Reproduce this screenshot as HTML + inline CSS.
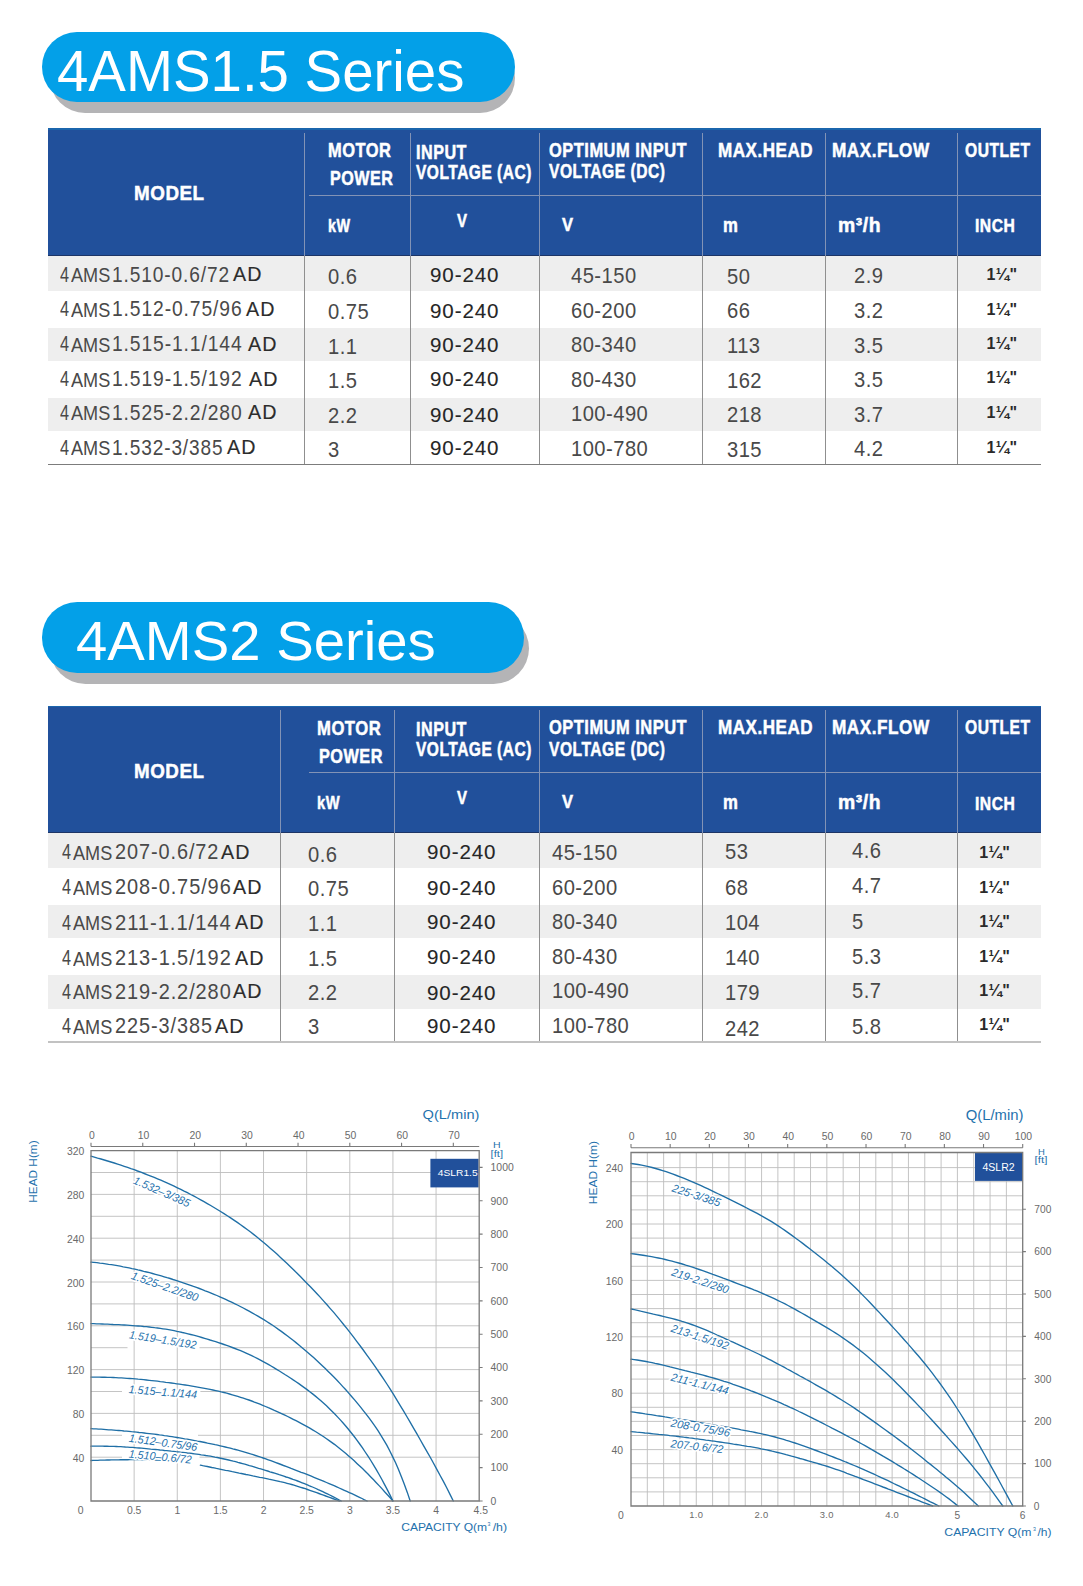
<!DOCTYPE html>
<html lang="en">
<head>
<meta charset="utf-8">
<title>4AMS1.5 / 4AMS2 Series</title>
<style>
html,body{margin:0;padding:0;background:#fff;}
body{width:1083px;height:1586px;position:relative;overflow:hidden;font-family:"Liberation Sans",Arial,sans-serif;}
.b{position:absolute;}
.t{position:absolute;white-space:nowrap;transform-origin:0 50%;display:block;}
svg{position:absolute;left:0;top:1090px;}
svg text{font-family:"Liberation Sans",Arial,sans-serif;}
</style>
</head>
<body>
<!-- section titles -->
<div class="b" style="left:50.00px;top:43.00px;width:464.50px;height:70.00px;background:#b4b4b6;border-radius:35.0px;"></div>
<div class="b" style="left:42.00px;top:32.00px;width:473.00px;height:69.80px;background:#03a0e8;border-radius:34.9px;"></div>
<span class="t" style="left:57.20px;top:43.13px;font-size:56.9px;line-height:56.9px;color:#fff;transform:scaleX(0.9910);">4AMS1.5 Series</span>
<div class="b" style="left:50.00px;top:613.00px;width:478.50px;height:71.00px;background:#b4b4b6;border-radius:35.5px;"></div>
<div class="b" style="left:42.00px;top:602.00px;width:482.00px;height:70.50px;background:#03a0e8;border-radius:35.2px;"></div>
<span class="t" style="left:75.60px;top:612.70px;font-size:56.0px;line-height:56.0px;color:#fff;transform:scaleX(1.0049);">4AMS2 Series</span>
<!-- table at y=128 -->
<div class="b" style="left:48.30px;top:128.30px;width:992.50px;height:127.50px;background:#21509b;"></div>
<div class="b" style="left:48.30px;top:128.30px;width:992.50px;height:1.60px;background:#1b66ad;"></div>
<div class="b" style="left:48.30px;top:254.60px;width:992.50px;height:1.60px;background:#1d3566;"></div>
<div class="b" style="left:48.30px;top:255.80px;width:992.50px;height:35.00px;background:#eeeeee;"></div>
<div class="b" style="left:48.30px;top:328.10px;width:992.50px;height:33.10px;background:#eeeeee;"></div>
<div class="b" style="left:48.30px;top:397.90px;width:992.50px;height:33.60px;background:#eeeeee;"></div>
<div class="b" style="left:303.50px;top:132.80px;width:1.00px;height:123.00px;background:#8293b6;"></div>
<div class="b" style="left:303.50px;top:255.80px;width:1.00px;height:208.40px;background:#8f8f8f;"></div>
<div class="b" style="left:409.50px;top:132.80px;width:1.00px;height:123.00px;background:#8293b6;"></div>
<div class="b" style="left:409.50px;top:255.80px;width:1.00px;height:208.40px;background:#8f8f8f;"></div>
<div class="b" style="left:538.50px;top:132.80px;width:1.00px;height:123.00px;background:#8293b6;"></div>
<div class="b" style="left:538.50px;top:255.80px;width:1.00px;height:208.40px;background:#8f8f8f;"></div>
<div class="b" style="left:701.50px;top:132.80px;width:1.00px;height:123.00px;background:#8293b6;"></div>
<div class="b" style="left:701.50px;top:255.80px;width:1.00px;height:208.40px;background:#8f8f8f;"></div>
<div class="b" style="left:824.50px;top:132.80px;width:1.00px;height:123.00px;background:#8293b6;"></div>
<div class="b" style="left:824.50px;top:255.80px;width:1.00px;height:208.40px;background:#8f8f8f;"></div>
<div class="b" style="left:956.50px;top:132.80px;width:1.00px;height:123.00px;background:#8293b6;"></div>
<div class="b" style="left:956.50px;top:255.80px;width:1.00px;height:208.40px;background:#8f8f8f;"></div>
<div class="b" style="left:308.80px;top:194.50px;width:732.00px;height:1.00px;background:#8293b6;"></div>
<div class="b" style="left:48.30px;top:463.60px;width:992.50px;height:1.00px;background:#7c7c7c;"></div>
<span class="t" style="left:133.90px;top:183.46px;font-size:20.6px;line-height:20.6px;color:#fff;font-weight:700;letter-spacing:0.6px;transform:scaleX(0.9132);-webkit-text-stroke:0.5px #fff;">MODEL</span>
<span class="t" style="left:328.00px;top:140.98px;font-size:19.4px;line-height:19.4px;color:#fff;font-weight:700;letter-spacing:0.6px;transform:scaleX(0.8482);-webkit-text-stroke:0.5px #fff;">MOTOR</span>
<span class="t" style="left:330.00px;top:169.18px;font-size:19.4px;line-height:19.4px;color:#fff;font-weight:700;letter-spacing:0.6px;transform:scaleX(0.8319);-webkit-text-stroke:0.5px #fff;">POWER</span>
<span class="t" style="left:416.00px;top:142.88px;font-size:19.4px;line-height:19.4px;color:#fff;font-weight:700;letter-spacing:0.6px;transform:scaleX(0.8333);-webkit-text-stroke:0.5px #fff;">INPUT</span>
<span class="t" style="left:416.00px;top:163.08px;font-size:19.4px;line-height:19.4px;color:#fff;font-weight:700;letter-spacing:0.6px;transform:scaleX(0.8029);-webkit-text-stroke:0.5px #fff;">VOLTAGE (AC)</span>
<span class="t" style="left:548.80px;top:140.58px;font-size:19.4px;line-height:19.4px;color:#fff;font-weight:700;letter-spacing:0.6px;transform:scaleX(0.8479);-webkit-text-stroke:0.5px #fff;">OPTIMUM INPUT</span>
<span class="t" style="left:549.00px;top:162.28px;font-size:19.4px;line-height:19.4px;color:#fff;font-weight:700;letter-spacing:0.6px;transform:scaleX(0.8064);-webkit-text-stroke:0.5px #fff;">VOLTAGE (DC)</span>
<span class="t" style="left:717.80px;top:140.58px;font-size:19.4px;line-height:19.4px;color:#fff;font-weight:700;letter-spacing:0.6px;transform:scaleX(0.8793);-webkit-text-stroke:0.5px #fff;">MAX.HEAD</span>
<span class="t" style="left:832.00px;top:140.58px;font-size:19.4px;line-height:19.4px;color:#fff;font-weight:700;letter-spacing:0.6px;transform:scaleX(0.8859);-webkit-text-stroke:0.5px #fff;">MAX.FLOW</span>
<span class="t" style="left:964.50px;top:140.58px;font-size:19.4px;line-height:19.4px;color:#fff;font-weight:700;letter-spacing:0.6px;transform:scaleX(0.8065);-webkit-text-stroke:0.5px #fff;">OUTLET</span>
<span class="t" style="left:328.00px;top:217.04px;font-size:18.5px;line-height:18.5px;color:#fff;font-weight:700;letter-spacing:0.6px;transform:scaleX(0.7760);-webkit-text-stroke:0.5px #fff;">kW</span>
<span class="t" style="left:457.00px;top:211.59px;font-size:18.8px;line-height:18.8px;color:#fff;font-weight:700;letter-spacing:0.6px;transform:scaleX(0.7999);-webkit-text-stroke:0.5px #fff;">V</span>
<span class="t" style="left:561.50px;top:216.09px;font-size:18.8px;line-height:18.8px;color:#fff;font-weight:700;letter-spacing:0.6px;transform:scaleX(0.8799);-webkit-text-stroke:0.5px #fff;">V</span>
<span class="t" style="left:723.40px;top:215.58px;font-size:19.4px;line-height:19.4px;color:#fff;font-weight:700;letter-spacing:0.6px;transform:scaleX(0.8630);-webkit-text-stroke:0.5px #fff;">m</span>
<span class="t" style="left:838.00px;top:215.88px;font-size:19.4px;line-height:19.4px;color:#fff;font-weight:700;letter-spacing:0.6px;transform:scaleX(0.9969);-webkit-text-stroke:0.5px #fff;">m³/h</span>
<span class="t" style="left:974.80px;top:216.22px;font-size:19.0px;line-height:19.0px;color:#fff;font-weight:700;letter-spacing:0.6px;transform:scaleX(0.8248);-webkit-text-stroke:0.5px #fff;">INCH</span>
<div class="m"><span class="t" style="left:59.90px;top:263.72px;font-size:21.6px;line-height:21.6px;color:#494949;transform:scaleX(0.7508);">4</span><span class="t" style="left:71.00px;top:265.46px;font-size:20.6px;line-height:20.6px;color:#494949;transform:scaleX(0.8789);">AMS</span><span class="t" style="left:112.30px;top:263.72px;font-size:21.6px;line-height:21.6px;color:#494949;letter-spacing:1.0px;transform:scaleX(0.8852);">1.510-0.6/72</span><span class="t" style="left:233.00px;top:265.44px;font-size:19.8px;line-height:19.8px;color:#2c2c2c;letter-spacing:1.0px;transform:scaleX(0.9957);-webkit-text-stroke:0.15px #2c2c2c;">AD</span></div>
<div class="m"><span class="t" style="left:59.90px;top:298.32px;font-size:21.6px;line-height:21.6px;color:#494949;transform:scaleX(0.7508);">4</span><span class="t" style="left:71.00px;top:300.06px;font-size:20.6px;line-height:20.6px;color:#494949;transform:scaleX(0.8789);">AMS</span><span class="t" style="left:112.30px;top:298.32px;font-size:21.6px;line-height:21.6px;color:#494949;letter-spacing:1.0px;transform:scaleX(0.8921);">1.512-0.75/96</span><span class="t" style="left:246.40px;top:300.04px;font-size:19.8px;line-height:19.8px;color:#2c2c2c;letter-spacing:1.0px;transform:scaleX(0.9957);-webkit-text-stroke:0.15px #2c2c2c;">AD</span></div>
<div class="m"><span class="t" style="left:59.90px;top:332.92px;font-size:21.6px;line-height:21.6px;color:#494949;transform:scaleX(0.7508);">4</span><span class="t" style="left:71.00px;top:334.66px;font-size:20.6px;line-height:20.6px;color:#494949;transform:scaleX(0.8789);">AMS</span><span class="t" style="left:112.30px;top:332.92px;font-size:21.6px;line-height:21.6px;color:#494949;letter-spacing:1.0px;transform:scaleX(0.8921);">1.515-1.1/144</span><span class="t" style="left:248.30px;top:334.64px;font-size:19.8px;line-height:19.8px;color:#2c2c2c;letter-spacing:1.0px;transform:scaleX(0.9957);-webkit-text-stroke:0.15px #2c2c2c;">AD</span></div>
<div class="m"><span class="t" style="left:59.90px;top:368.12px;font-size:21.6px;line-height:21.6px;color:#494949;transform:scaleX(0.7508);">4</span><span class="t" style="left:71.00px;top:369.86px;font-size:20.6px;line-height:20.6px;color:#494949;transform:scaleX(0.8789);">AMS</span><span class="t" style="left:112.30px;top:368.12px;font-size:21.6px;line-height:21.6px;color:#494949;letter-spacing:1.0px;transform:scaleX(0.8921);">1.519-1.5/192</span><span class="t" style="left:248.80px;top:369.84px;font-size:19.8px;line-height:19.8px;color:#2c2c2c;letter-spacing:1.0px;transform:scaleX(0.9957);-webkit-text-stroke:0.15px #2c2c2c;">AD</span></div>
<div class="m"><span class="t" style="left:59.90px;top:401.52px;font-size:21.6px;line-height:21.6px;color:#494949;transform:scaleX(0.7508);">4</span><span class="t" style="left:71.00px;top:403.26px;font-size:20.6px;line-height:20.6px;color:#494949;transform:scaleX(0.8789);">AMS</span><span class="t" style="left:112.30px;top:401.52px;font-size:21.6px;line-height:21.6px;color:#494949;letter-spacing:1.0px;transform:scaleX(0.8921);">1.525-2.2/280</span><span class="t" style="left:247.50px;top:403.24px;font-size:19.8px;line-height:19.8px;color:#2c2c2c;letter-spacing:1.0px;transform:scaleX(0.9957);-webkit-text-stroke:0.15px #2c2c2c;">AD</span></div>
<div class="m"><span class="t" style="left:59.90px;top:436.72px;font-size:21.6px;line-height:21.6px;color:#494949;transform:scaleX(0.7508);">4</span><span class="t" style="left:71.00px;top:438.46px;font-size:20.6px;line-height:20.6px;color:#494949;transform:scaleX(0.8789);">AMS</span><span class="t" style="left:112.30px;top:436.72px;font-size:21.6px;line-height:21.6px;color:#494949;letter-spacing:1.0px;transform:scaleX(0.8832);">1.532-3/385</span><span class="t" style="left:226.70px;top:438.44px;font-size:19.8px;line-height:19.8px;color:#2c2c2c;letter-spacing:1.0px;transform:scaleX(0.9957);-webkit-text-stroke:0.15px #2c2c2c;">AD</span></div>
<span class="t" style="left:328.40px;top:265.85px;font-size:21.8px;line-height:21.8px;color:#494949;letter-spacing:0.5px;transform:scaleX(0.9250);">0.6</span>
<span class="t" style="left:328.40px;top:300.95px;font-size:21.8px;line-height:21.8px;color:#494949;letter-spacing:0.5px;transform:scaleX(0.9250);">0.75</span>
<span class="t" style="left:328.40px;top:335.55px;font-size:21.8px;line-height:21.8px;color:#494949;letter-spacing:0.5px;transform:scaleX(0.9250);">1.1</span>
<span class="t" style="left:328.40px;top:370.05px;font-size:21.8px;line-height:21.8px;color:#494949;letter-spacing:0.5px;transform:scaleX(0.9250);">1.5</span>
<span class="t" style="left:328.40px;top:404.55px;font-size:21.8px;line-height:21.8px;color:#494949;letter-spacing:0.5px;transform:scaleX(0.9250);">2.2</span>
<span class="t" style="left:328.40px;top:439.15px;font-size:21.8px;line-height:21.8px;color:#494949;letter-spacing:0.5px;transform:scaleX(0.9250);">3</span>
<span class="t" style="left:430.40px;top:264.53px;font-size:20.4px;line-height:20.4px;color:#262626;letter-spacing:0.9px;transform:scaleX(1.0081);-webkit-text-stroke:0.1px #262626;">90-240</span>
<span class="t" style="left:430.40px;top:300.73px;font-size:20.4px;line-height:20.4px;color:#262626;letter-spacing:0.9px;transform:scaleX(1.0081);-webkit-text-stroke:0.1px #262626;">90-240</span>
<span class="t" style="left:430.40px;top:335.03px;font-size:20.4px;line-height:20.4px;color:#262626;letter-spacing:0.9px;transform:scaleX(1.0081);-webkit-text-stroke:0.1px #262626;">90-240</span>
<span class="t" style="left:430.40px;top:369.43px;font-size:20.4px;line-height:20.4px;color:#262626;letter-spacing:0.9px;transform:scaleX(1.0081);-webkit-text-stroke:0.1px #262626;">90-240</span>
<span class="t" style="left:430.40px;top:405.33px;font-size:20.4px;line-height:20.4px;color:#262626;letter-spacing:0.9px;transform:scaleX(1.0081);-webkit-text-stroke:0.1px #262626;">90-240</span>
<span class="t" style="left:430.40px;top:437.73px;font-size:20.4px;line-height:20.4px;color:#262626;letter-spacing:0.9px;transform:scaleX(1.0081);-webkit-text-stroke:0.1px #262626;">90-240</span>
<span class="t" style="left:570.80px;top:265.15px;font-size:21.8px;line-height:21.8px;color:#494949;letter-spacing:0.5px;transform:scaleX(0.9250);">45-150</span>
<span class="t" style="left:570.80px;top:299.85px;font-size:21.8px;line-height:21.8px;color:#494949;letter-spacing:0.5px;transform:scaleX(0.9250);">60-200</span>
<span class="t" style="left:570.80px;top:333.85px;font-size:21.8px;line-height:21.8px;color:#494949;letter-spacing:0.5px;transform:scaleX(0.9250);">80-340</span>
<span class="t" style="left:570.80px;top:368.85px;font-size:21.8px;line-height:21.8px;color:#494949;letter-spacing:0.5px;transform:scaleX(0.9250);">80-430</span>
<span class="t" style="left:570.80px;top:403.25px;font-size:21.8px;line-height:21.8px;color:#494949;letter-spacing:0.5px;transform:scaleX(0.9250);">100-490</span>
<span class="t" style="left:570.80px;top:437.55px;font-size:21.8px;line-height:21.8px;color:#494949;letter-spacing:0.5px;transform:scaleX(0.9250);">100-780</span>
<span class="t" style="left:726.60px;top:265.75px;font-size:21.8px;line-height:21.8px;color:#494949;letter-spacing:0.5px;transform:scaleX(0.9250);">50</span>
<span class="t" style="left:726.60px;top:300.35px;font-size:21.8px;line-height:21.8px;color:#494949;letter-spacing:0.5px;transform:scaleX(0.9250);">66</span>
<span class="t" style="left:726.60px;top:335.25px;font-size:21.8px;line-height:21.8px;color:#494949;letter-spacing:0.5px;transform:scaleX(0.9250);">113</span>
<span class="t" style="left:726.60px;top:369.55px;font-size:21.8px;line-height:21.8px;color:#494949;letter-spacing:0.5px;transform:scaleX(0.9250);">162</span>
<span class="t" style="left:726.60px;top:404.45px;font-size:21.8px;line-height:21.8px;color:#494949;letter-spacing:0.5px;transform:scaleX(0.9250);">218</span>
<span class="t" style="left:726.60px;top:438.65px;font-size:21.8px;line-height:21.8px;color:#494949;letter-spacing:0.5px;transform:scaleX(0.9250);">315</span>
<span class="t" style="left:853.90px;top:265.45px;font-size:21.8px;line-height:21.8px;color:#494949;letter-spacing:0.5px;transform:scaleX(0.9250);">2.9</span>
<span class="t" style="left:853.90px;top:299.75px;font-size:21.8px;line-height:21.8px;color:#494949;letter-spacing:0.5px;transform:scaleX(0.9250);">3.2</span>
<span class="t" style="left:853.90px;top:334.65px;font-size:21.8px;line-height:21.8px;color:#494949;letter-spacing:0.5px;transform:scaleX(0.9250);">3.5</span>
<span class="t" style="left:853.90px;top:368.85px;font-size:21.8px;line-height:21.8px;color:#494949;letter-spacing:0.5px;transform:scaleX(0.9250);">3.5</span>
<span class="t" style="left:853.90px;top:403.75px;font-size:21.8px;line-height:21.8px;color:#494949;letter-spacing:0.5px;transform:scaleX(0.9250);">3.7</span>
<span class="t" style="left:853.90px;top:438.35px;font-size:21.8px;line-height:21.8px;color:#494949;letter-spacing:0.5px;transform:scaleX(0.9250);">4.2</span>
<span class="t" style="left:986.60px;top:267.06px;font-size:16.0px;line-height:16.0px;color:#2a2a2a;font-weight:700;letter-spacing:0.3px;">1¼&quot;</span>
<span class="t" style="left:986.60px;top:301.96px;font-size:16.0px;line-height:16.0px;color:#2a2a2a;font-weight:700;letter-spacing:0.3px;">1¼&quot;</span>
<span class="t" style="left:986.60px;top:336.16px;font-size:16.0px;line-height:16.0px;color:#2a2a2a;font-weight:700;letter-spacing:0.3px;">1¼&quot;</span>
<span class="t" style="left:986.60px;top:370.46px;font-size:16.0px;line-height:16.0px;color:#2a2a2a;font-weight:700;letter-spacing:0.3px;">1¼&quot;</span>
<span class="t" style="left:986.60px;top:405.36px;font-size:16.0px;line-height:16.0px;color:#2a2a2a;font-weight:700;letter-spacing:0.3px;">1¼&quot;</span>
<span class="t" style="left:986.60px;top:439.96px;font-size:16.0px;line-height:16.0px;color:#2a2a2a;font-weight:700;letter-spacing:0.3px;">1¼&quot;</span>
<!-- table at y=706 -->
<div class="b" style="left:48.30px;top:705.60px;width:992.50px;height:127.50px;background:#21509b;"></div>
<div class="b" style="left:48.30px;top:705.60px;width:992.50px;height:1.60px;background:#1b66ad;"></div>
<div class="b" style="left:48.30px;top:831.90px;width:992.50px;height:1.60px;background:#1d3566;"></div>
<div class="b" style="left:48.30px;top:833.20px;width:992.50px;height:35.20px;background:#eeeeee;"></div>
<div class="b" style="left:48.30px;top:905.00px;width:992.50px;height:33.20px;background:#eeeeee;"></div>
<div class="b" style="left:48.30px;top:975.00px;width:992.50px;height:33.50px;background:#eeeeee;"></div>
<div class="b" style="left:279.50px;top:710.10px;width:1.00px;height:123.00px;background:#8293b6;"></div>
<div class="b" style="left:279.50px;top:833.10px;width:1.00px;height:208.90px;background:#8f8f8f;"></div>
<div class="b" style="left:393.50px;top:710.10px;width:1.00px;height:123.00px;background:#8293b6;"></div>
<div class="b" style="left:393.50px;top:833.10px;width:1.00px;height:208.90px;background:#8f8f8f;"></div>
<div class="b" style="left:538.50px;top:710.10px;width:1.00px;height:123.00px;background:#8293b6;"></div>
<div class="b" style="left:538.50px;top:833.10px;width:1.00px;height:208.90px;background:#8f8f8f;"></div>
<div class="b" style="left:701.50px;top:710.10px;width:1.00px;height:123.00px;background:#8293b6;"></div>
<div class="b" style="left:701.50px;top:833.10px;width:1.00px;height:208.90px;background:#8f8f8f;"></div>
<div class="b" style="left:824.50px;top:710.10px;width:1.00px;height:123.00px;background:#8293b6;"></div>
<div class="b" style="left:824.50px;top:833.10px;width:1.00px;height:208.90px;background:#8f8f8f;"></div>
<div class="b" style="left:956.50px;top:710.10px;width:1.00px;height:123.00px;background:#8293b6;"></div>
<div class="b" style="left:956.50px;top:833.10px;width:1.00px;height:208.90px;background:#8f8f8f;"></div>
<div class="b" style="left:308.80px;top:771.50px;width:732.00px;height:1.00px;background:#8293b6;"></div>
<div class="b" style="left:48.30px;top:1041.10px;width:992.50px;height:1.70px;background:#c2c2c2;"></div>
<span class="t" style="left:134.00px;top:760.66px;font-size:20.6px;line-height:20.6px;color:#fff;font-weight:700;letter-spacing:0.6px;transform:scaleX(0.9119);-webkit-text-stroke:0.5px #fff;">MODEL</span>
<span class="t" style="left:317.00px;top:718.78px;font-size:19.4px;line-height:19.4px;color:#fff;font-weight:700;letter-spacing:0.6px;transform:scaleX(0.8589);-webkit-text-stroke:0.5px #fff;">MOTOR</span>
<span class="t" style="left:319.00px;top:746.98px;font-size:19.4px;line-height:19.4px;color:#fff;font-weight:700;letter-spacing:0.6px;transform:scaleX(0.8385);-webkit-text-stroke:0.5px #fff;">POWER</span>
<span class="t" style="left:416.30px;top:720.08px;font-size:19.4px;line-height:19.4px;color:#fff;font-weight:700;letter-spacing:0.6px;transform:scaleX(0.8317);-webkit-text-stroke:0.5px #fff;">INPUT</span>
<span class="t" style="left:416.30px;top:740.08px;font-size:19.4px;line-height:19.4px;color:#fff;font-weight:700;letter-spacing:0.6px;transform:scaleX(0.8029);-webkit-text-stroke:0.5px #fff;">VOLTAGE (AC)</span>
<span class="t" style="left:548.80px;top:717.88px;font-size:19.4px;line-height:19.4px;color:#fff;font-weight:700;letter-spacing:0.6px;transform:scaleX(0.8479);-webkit-text-stroke:0.5px #fff;">OPTIMUM INPUT</span>
<span class="t" style="left:549.00px;top:739.58px;font-size:19.4px;line-height:19.4px;color:#fff;font-weight:700;letter-spacing:0.6px;transform:scaleX(0.8064);-webkit-text-stroke:0.5px #fff;">VOLTAGE (DC)</span>
<span class="t" style="left:717.80px;top:717.88px;font-size:19.4px;line-height:19.4px;color:#fff;font-weight:700;letter-spacing:0.6px;transform:scaleX(0.8793);-webkit-text-stroke:0.5px #fff;">MAX.HEAD</span>
<span class="t" style="left:832.00px;top:717.88px;font-size:19.4px;line-height:19.4px;color:#fff;font-weight:700;letter-spacing:0.6px;transform:scaleX(0.8859);-webkit-text-stroke:0.5px #fff;">MAX.FLOW</span>
<span class="t" style="left:964.50px;top:717.88px;font-size:19.4px;line-height:19.4px;color:#fff;font-weight:700;letter-spacing:0.6px;transform:scaleX(0.8065);-webkit-text-stroke:0.5px #fff;">OUTLET</span>
<span class="t" style="left:317.40px;top:794.34px;font-size:18.5px;line-height:18.5px;color:#fff;font-weight:700;letter-spacing:0.6px;transform:scaleX(0.7972);-webkit-text-stroke:0.5px #fff;">kW</span>
<span class="t" style="left:457.00px;top:789.09px;font-size:18.8px;line-height:18.8px;color:#fff;font-weight:700;letter-spacing:0.6px;transform:scaleX(0.7999);-webkit-text-stroke:0.5px #fff;">V</span>
<span class="t" style="left:561.50px;top:793.39px;font-size:18.8px;line-height:18.8px;color:#fff;font-weight:700;letter-spacing:0.6px;transform:scaleX(0.8799);-webkit-text-stroke:0.5px #fff;">V</span>
<span class="t" style="left:723.40px;top:792.88px;font-size:19.4px;line-height:19.4px;color:#fff;font-weight:700;letter-spacing:0.6px;transform:scaleX(0.8630);-webkit-text-stroke:0.5px #fff;">m</span>
<span class="t" style="left:838.00px;top:793.18px;font-size:19.4px;line-height:19.4px;color:#fff;font-weight:700;letter-spacing:0.6px;transform:scaleX(0.9969);-webkit-text-stroke:0.5px #fff;">m³/h</span>
<span class="t" style="left:974.80px;top:793.52px;font-size:19.0px;line-height:19.0px;color:#fff;font-weight:700;letter-spacing:0.6px;transform:scaleX(0.8248);-webkit-text-stroke:0.5px #fff;">INCH</span>
<div class="m"><span class="t" style="left:61.60px;top:841.32px;font-size:21.6px;line-height:21.6px;color:#494949;transform:scaleX(0.7508);">4</span><span class="t" style="left:72.70px;top:843.06px;font-size:20.6px;line-height:20.6px;color:#494949;transform:scaleX(0.8789);">AMS</span><span class="t" style="left:115.30px;top:841.32px;font-size:21.6px;line-height:21.6px;color:#494949;letter-spacing:1.0px;transform:scaleX(0.9212);">207-0.6/72</span><span class="t" style="left:220.60px;top:843.04px;font-size:19.8px;line-height:19.8px;color:#2c2c2c;letter-spacing:1.0px;transform:scaleX(0.9957);-webkit-text-stroke:0.15px #2c2c2c;">AD</span></div>
<div class="m"><span class="t" style="left:61.60px;top:876.32px;font-size:21.6px;line-height:21.6px;color:#494949;transform:scaleX(0.7508);">4</span><span class="t" style="left:72.70px;top:878.06px;font-size:20.6px;line-height:20.6px;color:#494949;transform:scaleX(0.8789);">AMS</span><span class="t" style="left:115.30px;top:876.32px;font-size:21.6px;line-height:21.6px;color:#494949;letter-spacing:1.0px;transform:scaleX(0.9239);">208-0.75/96</span><span class="t" style="left:233.10px;top:878.04px;font-size:19.8px;line-height:19.8px;color:#2c2c2c;letter-spacing:1.0px;transform:scaleX(0.9957);-webkit-text-stroke:0.15px #2c2c2c;">AD</span></div>
<div class="m"><span class="t" style="left:61.60px;top:911.72px;font-size:21.6px;line-height:21.6px;color:#494949;transform:scaleX(0.7508);">4</span><span class="t" style="left:72.70px;top:913.46px;font-size:20.6px;line-height:20.6px;color:#494949;transform:scaleX(0.8789);">AMS</span><span class="t" style="left:115.30px;top:911.72px;font-size:21.6px;line-height:21.6px;color:#494949;letter-spacing:1.0px;transform:scaleX(0.9360);">211-1.1/144</span><span class="t" style="left:234.50px;top:913.44px;font-size:19.8px;line-height:19.8px;color:#2c2c2c;letter-spacing:1.0px;transform:scaleX(0.9957);-webkit-text-stroke:0.15px #2c2c2c;">AD</span></div>
<div class="m"><span class="t" style="left:61.60px;top:946.82px;font-size:21.6px;line-height:21.6px;color:#494949;transform:scaleX(0.7508);">4</span><span class="t" style="left:72.70px;top:948.56px;font-size:20.6px;line-height:20.6px;color:#494949;transform:scaleX(0.8789);">AMS</span><span class="t" style="left:115.30px;top:946.82px;font-size:21.6px;line-height:21.6px;color:#494949;letter-spacing:1.0px;transform:scaleX(0.9239);">213-1.5/192</span><span class="t" style="left:235.30px;top:948.54px;font-size:19.8px;line-height:19.8px;color:#2c2c2c;letter-spacing:1.0px;transform:scaleX(0.9957);-webkit-text-stroke:0.15px #2c2c2c;">AD</span></div>
<div class="m"><span class="t" style="left:61.60px;top:980.52px;font-size:21.6px;line-height:21.6px;color:#494949;transform:scaleX(0.7508);">4</span><span class="t" style="left:72.70px;top:982.26px;font-size:20.6px;line-height:20.6px;color:#494949;transform:scaleX(0.8789);">AMS</span><span class="t" style="left:115.30px;top:980.52px;font-size:21.6px;line-height:21.6px;color:#494949;letter-spacing:1.0px;transform:scaleX(0.9239);">219-2.2/280</span><span class="t" style="left:233.40px;top:982.24px;font-size:19.8px;line-height:19.8px;color:#2c2c2c;letter-spacing:1.0px;transform:scaleX(0.9957);-webkit-text-stroke:0.15px #2c2c2c;">AD</span></div>
<div class="m"><span class="t" style="left:61.60px;top:1015.22px;font-size:21.6px;line-height:21.6px;color:#494949;transform:scaleX(0.7508);">4</span><span class="t" style="left:72.70px;top:1016.96px;font-size:20.6px;line-height:20.6px;color:#494949;transform:scaleX(0.8789);">AMS</span><span class="t" style="left:115.30px;top:1015.22px;font-size:21.6px;line-height:21.6px;color:#494949;letter-spacing:1.0px;transform:scaleX(0.9211);">225-3/385</span><span class="t" style="left:214.50px;top:1016.94px;font-size:19.8px;line-height:19.8px;color:#2c2c2c;letter-spacing:1.0px;transform:scaleX(0.9957);-webkit-text-stroke:0.15px #2c2c2c;">AD</span></div>
<span class="t" style="left:308.10px;top:843.55px;font-size:21.8px;line-height:21.8px;color:#494949;letter-spacing:0.5px;transform:scaleX(0.9250);">0.6</span>
<span class="t" style="left:308.10px;top:877.85px;font-size:21.8px;line-height:21.8px;color:#494949;letter-spacing:0.5px;transform:scaleX(0.9250);">0.75</span>
<span class="t" style="left:308.10px;top:912.95px;font-size:21.8px;line-height:21.8px;color:#494949;letter-spacing:0.5px;transform:scaleX(0.9250);">1.1</span>
<span class="t" style="left:308.10px;top:947.65px;font-size:21.8px;line-height:21.8px;color:#494949;letter-spacing:0.5px;transform:scaleX(0.9250);">1.5</span>
<span class="t" style="left:308.10px;top:981.95px;font-size:21.8px;line-height:21.8px;color:#494949;letter-spacing:0.5px;transform:scaleX(0.9250);">2.2</span>
<span class="t" style="left:308.10px;top:1016.35px;font-size:21.8px;line-height:21.8px;color:#494949;letter-spacing:0.5px;transform:scaleX(0.9250);">3</span>
<span class="t" style="left:427.20px;top:841.63px;font-size:20.4px;line-height:20.4px;color:#262626;letter-spacing:0.9px;transform:scaleX(1.0081);-webkit-text-stroke:0.1px #262626;">90-240</span>
<span class="t" style="left:427.20px;top:877.53px;font-size:20.4px;line-height:20.4px;color:#262626;letter-spacing:0.9px;transform:scaleX(1.0081);-webkit-text-stroke:0.1px #262626;">90-240</span>
<span class="t" style="left:427.20px;top:912.43px;font-size:20.4px;line-height:20.4px;color:#262626;letter-spacing:0.9px;transform:scaleX(1.0081);-webkit-text-stroke:0.1px #262626;">90-240</span>
<span class="t" style="left:427.20px;top:946.73px;font-size:20.4px;line-height:20.4px;color:#262626;letter-spacing:0.9px;transform:scaleX(1.0081);-webkit-text-stroke:0.1px #262626;">90-240</span>
<span class="t" style="left:427.20px;top:982.93px;font-size:20.4px;line-height:20.4px;color:#262626;letter-spacing:0.9px;transform:scaleX(1.0081);-webkit-text-stroke:0.1px #262626;">90-240</span>
<span class="t" style="left:427.20px;top:1015.53px;font-size:20.4px;line-height:20.4px;color:#262626;letter-spacing:0.9px;transform:scaleX(1.0081);-webkit-text-stroke:0.1px #262626;">90-240</span>
<span class="t" style="left:551.90px;top:842.15px;font-size:21.8px;line-height:21.8px;color:#494949;letter-spacing:0.5px;transform:scaleX(0.9250);">45-150</span>
<span class="t" style="left:551.90px;top:877.05px;font-size:21.8px;line-height:21.8px;color:#494949;letter-spacing:0.5px;transform:scaleX(0.9250);">60-200</span>
<span class="t" style="left:551.90px;top:911.25px;font-size:21.8px;line-height:21.8px;color:#494949;letter-spacing:0.5px;transform:scaleX(0.9250);">80-340</span>
<span class="t" style="left:551.90px;top:946.15px;font-size:21.8px;line-height:21.8px;color:#494949;letter-spacing:0.5px;transform:scaleX(0.9250);">80-430</span>
<span class="t" style="left:551.90px;top:980.45px;font-size:21.8px;line-height:21.8px;color:#494949;letter-spacing:0.5px;transform:scaleX(0.9250);">100-490</span>
<span class="t" style="left:551.90px;top:1015.35px;font-size:21.8px;line-height:21.8px;color:#494949;letter-spacing:0.5px;transform:scaleX(0.9250);">100-780</span>
<span class="t" style="left:724.90px;top:841.45px;font-size:21.8px;line-height:21.8px;color:#494949;letter-spacing:0.5px;transform:scaleX(0.9250);">53</span>
<span class="t" style="left:724.90px;top:877.05px;font-size:21.8px;line-height:21.8px;color:#494949;letter-spacing:0.5px;transform:scaleX(0.9250);">68</span>
<span class="t" style="left:724.90px;top:911.95px;font-size:21.8px;line-height:21.8px;color:#494949;letter-spacing:0.5px;transform:scaleX(0.9250);">104</span>
<span class="t" style="left:724.90px;top:947.15px;font-size:21.8px;line-height:21.8px;color:#494949;letter-spacing:0.5px;transform:scaleX(0.9250);">140</span>
<span class="t" style="left:724.90px;top:982.05px;font-size:21.8px;line-height:21.8px;color:#494949;letter-spacing:0.5px;transform:scaleX(0.9250);">179</span>
<span class="t" style="left:724.90px;top:1017.65px;font-size:21.8px;line-height:21.8px;color:#494949;letter-spacing:0.5px;transform:scaleX(0.9250);">242</span>
<span class="t" style="left:851.90px;top:840.45px;font-size:21.8px;line-height:21.8px;color:#494949;letter-spacing:0.5px;transform:scaleX(0.9250);">4.6</span>
<span class="t" style="left:851.90px;top:875.35px;font-size:21.8px;line-height:21.8px;color:#494949;letter-spacing:0.5px;transform:scaleX(0.9250);">4.7</span>
<span class="t" style="left:851.90px;top:910.65px;font-size:21.8px;line-height:21.8px;color:#494949;letter-spacing:0.5px;transform:scaleX(0.9250);">5</span>
<span class="t" style="left:851.90px;top:945.55px;font-size:21.8px;line-height:21.8px;color:#494949;letter-spacing:0.5px;transform:scaleX(0.9250);">5.3</span>
<span class="t" style="left:851.90px;top:980.45px;font-size:21.8px;line-height:21.8px;color:#494949;letter-spacing:0.5px;transform:scaleX(0.9250);">5.7</span>
<span class="t" style="left:851.90px;top:1015.95px;font-size:21.8px;line-height:21.8px;color:#494949;letter-spacing:0.5px;transform:scaleX(0.9250);">5.8</span>
<span class="t" style="left:979.30px;top:844.66px;font-size:16.0px;line-height:16.0px;color:#2a2a2a;font-weight:700;letter-spacing:0.3px;">1¼&quot;</span>
<span class="t" style="left:979.30px;top:879.66px;font-size:16.0px;line-height:16.0px;color:#2a2a2a;font-weight:700;letter-spacing:0.3px;">1¼&quot;</span>
<span class="t" style="left:979.30px;top:913.86px;font-size:16.0px;line-height:16.0px;color:#2a2a2a;font-weight:700;letter-spacing:0.3px;">1¼&quot;</span>
<span class="t" style="left:979.30px;top:948.76px;font-size:16.0px;line-height:16.0px;color:#2a2a2a;font-weight:700;letter-spacing:0.3px;">1¼&quot;</span>
<span class="t" style="left:979.30px;top:982.66px;font-size:16.0px;line-height:16.0px;color:#2a2a2a;font-weight:700;letter-spacing:0.3px;">1¼&quot;</span>
<span class="t" style="left:979.30px;top:1016.96px;font-size:16.0px;line-height:16.0px;color:#2a2a2a;font-weight:700;letter-spacing:0.3px;">1¼&quot;</span>
<svg width="1083" height="496" viewBox="0 1090 1083 496">
<!-- chart 1 : 4SLR1.5 -->
<g stroke="#bdbdbd" stroke-width="0.9" fill="none">
<path d="M134.13,1150.6 V1501.0"/>
<path d="M177.27,1150.6 V1501.0"/>
<path d="M220.40,1150.6 V1501.0"/>
<path d="M263.53,1150.6 V1501.0"/>
<path d="M306.67,1150.6 V1501.0"/>
<path d="M349.80,1150.6 V1501.0"/>
<path d="M392.93,1150.6 V1501.0"/>
<path d="M436.07,1150.6 V1501.0"/>
<path d="M91.0,1457.20 H122 M199.5,1457.20 H479.2"/>
<path d="M91.0,1435.30 H122 M198,1435.30 H479.2"/>
<path d="M91.0,1413.40 H479.2"/>
<path d="M91.0,1391.50 H122 M200.4,1391.50 H479.2"/>
<path d="M91.0,1369.60 H479.2"/>
<path d="M91.0,1347.70 H127.5 M199.5,1347.70 H479.2"/>
<path d="M91.0,1325.80 H479.2"/>
<path d="M91.0,1303.90 H479.2"/>
<path d="M91.0,1282.00 H479.2"/>
<path d="M91.0,1260.10 H479.2"/>
<path d="M91.0,1238.20 H479.2"/>
<path d="M91.0,1216.30 H479.2"/>
<path d="M91.0,1194.40 H479.2"/>
<path d="M91.0,1172.50 H479.2"/>
</g>
<rect x="430.4" y="1158.8" width="48.2" height="28.6" fill="#21509b"/>
<text x="437.80" y="1176.00" font-size="8.8" fill="#fff" textLength="39.82" lengthAdjust="spacingAndGlyphs">4SLR1.5</text>
<g stroke="#1f6fa6" stroke-width="1.35" fill="none" stroke-linecap="round">
<path d="M91.0,1156.2 L94.3,1157.1 L97.6,1158.1 L101.0,1159.0 L104.3,1160.0 L107.6,1161.0 L110.9,1162.0 L114.3,1163.0 L117.6,1164.1 L120.9,1165.2 L124.2,1166.3 L127.6,1167.4 L130.9,1168.6 L134.2,1169.7 L137.5,1171.0 L140.9,1172.2 L144.2,1173.5 L147.5,1174.8 L150.8,1176.1 L154.2,1177.4 L157.5,1178.8 L160.8,1180.2 L164.1,1181.7 L167.5,1183.2 L170.8,1184.7 L174.1,1186.2 L177.4,1187.8 L180.8,1189.4 L184.1,1191.1 L187.4,1192.7 L190.7,1194.5 L194.0,1196.2 L197.4,1198.0 L200.7,1199.8 L204.0,1201.7 L207.3,1203.6 L210.7,1205.5 L214.0,1207.5 L217.3,1209.5 L220.6,1211.5 L224.0,1213.6 L227.3,1215.7 L230.6,1217.9 L233.9,1220.1 L237.3,1222.4 L240.6,1224.7 L243.9,1227.1 L247.2,1229.5 L250.6,1232.0 L253.9,1234.6 L257.2,1237.2 L260.5,1239.9 L263.9,1242.7 L267.2,1245.5 L270.5,1248.4 L273.8,1251.3 L277.2,1254.3 L280.5,1257.4 L283.8,1260.5 L287.1,1263.6 L290.4,1266.8 L293.8,1270.1 L297.1,1273.3 L300.4,1276.6 L303.7,1280.0 L307.1,1283.4 L310.4,1286.8 L313.7,1290.3 L317.0,1293.8 L320.4,1297.4 L323.7,1301.1 L327.0,1304.8 L330.3,1308.6 L333.7,1312.4 L337.0,1316.4 L340.3,1320.4 L343.6,1324.5 L347.0,1328.6 L350.3,1332.9 L353.6,1337.2 L356.9,1341.6 L360.3,1346.0 L363.6,1350.5 L366.9,1355.1 L370.2,1359.7 L373.6,1364.4 L376.9,1369.1 L380.2,1374.0 L383.5,1378.9 L386.9,1384.0 L390.2,1389.1 L393.5,1394.4 L396.8,1399.8 L400.1,1405.3 L403.5,1410.9 L406.8,1416.5 L410.1,1422.2 L413.4,1427.9 L416.8,1433.7 L420.1,1439.5 L423.4,1445.3 L426.7,1451.1 L430.1,1457.0 L433.4,1463.0 L436.7,1469.1 L440.0,1475.2 L443.4,1481.4 L446.7,1487.8 L450.0,1494.4 L453.3,1501.0"/>
<path d="M91.0,1262.1 L93.9,1262.4 L96.9,1262.7 L99.8,1263.1 L102.7,1263.4 L105.6,1263.8 L108.6,1264.3 L111.5,1264.7 L114.4,1265.2 L117.4,1265.7 L120.3,1266.2 L123.2,1266.8 L126.1,1267.3 L129.1,1267.9 L132.0,1268.6 L134.9,1269.2 L137.9,1269.9 L140.8,1270.5 L143.7,1271.3 L146.6,1272.0 L149.6,1272.7 L152.5,1273.5 L155.4,1274.3 L158.4,1275.1 L161.3,1275.9 L164.2,1276.8 L167.1,1277.7 L170.1,1278.5 L173.0,1279.5 L175.9,1280.4 L178.9,1281.3 L181.8,1282.3 L184.7,1283.3 L187.6,1284.3 L190.6,1285.3 L193.5,1286.4 L196.4,1287.4 L199.4,1288.5 L202.3,1289.6 L205.2,1290.8 L208.1,1291.9 L211.1,1293.1 L214.0,1294.3 L216.9,1295.5 L219.9,1296.8 L222.8,1298.1 L225.7,1299.4 L228.6,1300.8 L231.6,1302.2 L234.5,1303.6 L237.4,1305.0 L240.3,1306.5 L243.3,1308.0 L246.2,1309.6 L249.1,1311.2 L252.1,1312.8 L255.0,1314.5 L257.9,1316.2 L260.8,1317.9 L263.8,1319.7 L266.7,1321.5 L269.6,1323.4 L272.6,1325.3 L275.5,1327.3 L278.4,1329.4 L281.3,1331.4 L284.3,1333.6 L287.2,1335.7 L290.1,1338.0 L293.1,1340.3 L296.0,1342.6 L298.9,1345.0 L301.8,1347.4 L304.8,1349.9 L307.7,1352.4 L310.6,1354.9 L313.6,1357.5 L316.5,1360.2 L319.4,1362.9 L322.3,1365.7 L325.3,1368.5 L328.2,1371.4 L331.1,1374.3 L334.1,1377.3 L337.0,1380.3 L339.9,1383.4 L342.8,1386.6 L345.8,1389.8 L348.7,1393.1 L351.6,1396.5 L354.6,1399.9 L357.5,1403.4 L360.4,1406.9 L363.3,1410.6 L366.3,1414.3 L369.2,1418.2 L372.1,1422.2 L375.1,1426.3 L378.0,1430.7 L380.9,1435.3 L383.8,1440.1 L386.8,1445.2 L389.7,1450.7 L392.6,1456.6 L395.6,1462.8 L398.5,1469.5 L401.4,1476.7 L404.3,1484.3 L407.3,1492.4 L410.2,1501.0"/>
<path d="M91.0,1323.6 L93.8,1323.7 L96.5,1323.8 L99.3,1323.9 L102.1,1324.0 L104.9,1324.1 L107.6,1324.2 L110.4,1324.3 L113.2,1324.5 L115.9,1324.6 L118.7,1324.7 L121.5,1324.9 L124.2,1325.0 L127.0,1325.2 L129.8,1325.4 L132.6,1325.6 L135.3,1325.8 L138.1,1326.0 L140.9,1326.2 L143.6,1326.5 L146.4,1326.7 L149.2,1327.0 L151.9,1327.3 L154.7,1327.7 L157.5,1328.0 L160.3,1328.4 L163.0,1328.8 L165.8,1329.2 L168.6,1329.7 L171.3,1330.2 L174.1,1330.7 L176.9,1331.3 L179.6,1331.8 L182.4,1332.5 L185.2,1333.1 L188.0,1333.8 L190.7,1334.5 L193.5,1335.2 L196.3,1335.9 L199.0,1336.7 L201.8,1337.5 L204.6,1338.3 L207.3,1339.1 L210.1,1340.0 L212.9,1340.8 L215.7,1341.7 L218.4,1342.6 L221.2,1343.5 L224.0,1344.5 L226.7,1345.4 L229.5,1346.4 L232.3,1347.5 L235.0,1348.5 L237.8,1349.6 L240.6,1350.7 L243.4,1351.9 L246.1,1353.1 L248.9,1354.3 L251.7,1355.6 L254.4,1357.0 L257.2,1358.4 L260.0,1359.8 L262.7,1361.3 L265.5,1362.8 L268.3,1364.4 L271.1,1366.0 L273.8,1367.6 L276.6,1369.3 L279.4,1371.0 L282.1,1372.7 L284.9,1374.5 L287.7,1376.2 L290.4,1378.0 L293.2,1379.9 L296.0,1381.7 L298.8,1383.6 L301.5,1385.6 L304.3,1387.6 L307.1,1389.6 L309.8,1391.7 L312.6,1393.9 L315.4,1396.1 L318.2,1398.4 L320.9,1400.8 L323.7,1403.3 L326.5,1405.8 L329.2,1408.5 L332.0,1411.2 L334.8,1414.0 L337.5,1416.9 L340.3,1419.9 L343.1,1423.0 L345.9,1426.2 L348.6,1429.5 L351.4,1433.0 L354.2,1436.5 L356.9,1440.2 L359.7,1444.0 L362.5,1447.9 L365.2,1452.0 L368.0,1456.2 L370.8,1460.5 L373.6,1465.1 L376.3,1469.7 L379.1,1474.5 L381.9,1479.5 L384.6,1484.6 L387.4,1489.9 L390.2,1495.4 L392.9,1501.0"/>
<path d="M91.0,1377.1 L93.8,1377.1 L96.5,1377.1 L99.3,1377.1 L102.1,1377.2 L104.9,1377.2 L107.6,1377.3 L110.4,1377.4 L113.2,1377.5 L115.9,1377.6 L118.7,1377.8 L121.5,1377.9 L124.2,1378.1 L127.0,1378.3 L129.8,1378.5 L132.6,1378.7 L135.3,1378.9 L138.1,1379.2 L140.9,1379.4 L143.6,1379.7 L146.4,1380.0 L149.2,1380.3 L151.9,1380.6 L154.7,1380.9 L157.5,1381.2 L160.3,1381.6 L163.0,1381.9 L165.8,1382.3 L168.6,1382.6 L171.3,1383.0 L174.1,1383.4 L176.9,1383.8 L179.6,1384.2 L182.4,1384.6 L185.2,1385.0 L188.0,1385.4 L190.7,1385.8 L193.5,1386.3 L196.3,1386.8 L199.0,1387.3 L201.8,1387.8 L204.6,1388.3 L207.3,1388.8 L210.1,1389.4 L212.9,1390.0 L215.7,1390.6 L218.4,1391.2 L221.2,1391.9 L224.0,1392.5 L226.7,1393.2 L229.5,1394.0 L232.3,1394.8 L235.0,1395.6 L237.8,1396.4 L240.6,1397.3 L243.4,1398.2 L246.1,1399.1 L248.9,1400.0 L251.7,1401.0 L254.4,1402.1 L257.2,1403.1 L260.0,1404.2 L262.7,1405.3 L265.5,1406.5 L268.3,1407.7 L271.1,1408.8 L273.8,1410.1 L276.6,1411.3 L279.4,1412.6 L282.1,1413.9 L284.9,1415.2 L287.7,1416.5 L290.4,1417.9 L293.2,1419.3 L296.0,1420.7 L298.8,1422.1 L301.5,1423.6 L304.3,1425.1 L307.1,1426.6 L309.8,1428.2 L312.6,1429.8 L315.4,1431.5 L318.2,1433.2 L320.9,1435.0 L323.7,1436.8 L326.5,1438.7 L329.2,1440.6 L332.0,1442.6 L334.8,1444.6 L337.5,1446.8 L340.3,1449.0 L343.1,1451.2 L345.9,1453.5 L348.6,1455.9 L351.4,1458.3 L354.2,1460.8 L356.9,1463.4 L359.7,1466.0 L362.5,1468.6 L365.2,1471.3 L368.0,1474.1 L370.8,1476.9 L373.6,1479.8 L376.3,1482.7 L379.1,1485.6 L381.9,1488.6 L384.6,1491.7 L387.4,1494.7 L390.2,1497.8 L392.9,1501.0"/>
<path d="M91.0,1428.7 L93.5,1428.8 L96.1,1428.9 L98.6,1429.1 L101.1,1429.2 L103.7,1429.4 L106.2,1429.6 L108.7,1429.8 L111.3,1429.9 L113.8,1430.1 L116.3,1430.3 L118.9,1430.5 L121.4,1430.7 L123.9,1431.0 L126.5,1431.2 L129.0,1431.4 L131.5,1431.7 L134.1,1431.9 L136.6,1432.2 L139.1,1432.5 L141.7,1432.7 L144.2,1433.0 L146.7,1433.3 L149.3,1433.6 L151.8,1433.9 L154.3,1434.2 L156.9,1434.5 L159.4,1434.9 L161.9,1435.2 L164.4,1435.6 L167.0,1435.9 L169.5,1436.3 L172.0,1436.7 L174.6,1437.1 L177.1,1437.5 L179.6,1437.9 L182.2,1438.3 L184.7,1438.8 L187.2,1439.2 L189.8,1439.6 L192.3,1440.1 L194.8,1440.6 L197.4,1441.1 L199.9,1441.5 L202.4,1442.0 L205.0,1442.5 L207.5,1443.1 L210.0,1443.6 L212.6,1444.1 L215.1,1444.7 L217.6,1445.2 L220.2,1445.8 L222.7,1446.4 L225.2,1447.0 L227.8,1447.6 L230.3,1448.2 L232.8,1448.9 L235.4,1449.5 L237.9,1450.2 L240.4,1450.9 L243.0,1451.6 L245.5,1452.3 L248.0,1453.1 L250.6,1453.9 L253.1,1454.6 L255.6,1455.5 L258.2,1456.3 L260.7,1457.2 L263.2,1458.0 L265.8,1458.9 L268.3,1459.8 L270.8,1460.7 L273.4,1461.7 L275.9,1462.6 L278.4,1463.5 L281.0,1464.5 L283.5,1465.5 L286.0,1466.4 L288.6,1467.4 L291.1,1468.4 L293.6,1469.3 L296.1,1470.3 L298.7,1471.3 L301.2,1472.3 L303.7,1473.2 L306.3,1474.2 L308.8,1475.2 L311.3,1476.2 L313.9,1477.3 L316.4,1478.3 L318.9,1479.3 L321.5,1480.4 L324.0,1481.4 L326.5,1482.5 L329.1,1483.6 L331.6,1484.6 L334.1,1485.7 L336.7,1486.9 L339.2,1488.0 L341.7,1489.1 L344.3,1490.3 L346.8,1491.4 L349.3,1492.6 L351.9,1493.7 L354.4,1494.9 L356.9,1496.1 L359.5,1497.3 L362.0,1498.5 L364.5,1499.8 L367.1,1501.0"/>
<path d="M91.0,1446.2 L93.3,1446.1 L95.6,1446.1 L97.9,1446.1 L100.2,1446.1 L102.5,1446.1 L104.8,1446.2 L107.1,1446.2 L109.4,1446.3 L111.7,1446.3 L114.0,1446.4 L116.2,1446.5 L118.5,1446.6 L120.8,1446.7 L123.1,1446.8 L125.4,1447.0 L127.7,1447.1 L130.0,1447.3 L132.3,1447.4 L134.6,1447.6 L136.9,1447.8 L139.2,1448.0 L141.5,1448.2 L143.8,1448.4 L146.1,1448.6 L148.4,1448.8 L150.7,1449.1 L153.0,1449.3 L155.3,1449.5 L157.6,1449.7 L159.9,1450.0 L162.2,1450.2 L164.4,1450.5 L166.7,1450.7 L169.0,1450.9 L171.3,1451.2 L173.6,1451.4 L175.9,1451.7 L178.2,1451.9 L180.5,1452.2 L182.8,1452.4 L185.1,1452.7 L187.4,1453.0 L189.7,1453.2 L192.0,1453.5 L194.3,1453.8 L196.6,1454.1 L198.9,1454.4 L201.2,1454.8 L203.5,1455.1 L205.8,1455.5 L208.1,1455.8 L210.4,1456.2 L212.6,1456.6 L214.9,1457.1 L217.2,1457.5 L219.5,1458.0 L221.8,1458.5 L224.1,1459.0 L226.4,1459.5 L228.7,1460.0 L231.0,1460.6 L233.3,1461.2 L235.6,1461.7 L237.9,1462.4 L240.2,1463.0 L242.5,1463.6 L244.8,1464.2 L247.1,1464.9 L249.4,1465.6 L251.7,1466.2 L254.0,1466.9 L256.3,1467.6 L258.6,1468.3 L260.8,1468.9 L263.1,1469.6 L265.4,1470.3 L267.7,1471.0 L270.0,1471.8 L272.3,1472.5 L274.6,1473.2 L276.9,1473.9 L279.2,1474.7 L281.5,1475.4 L283.8,1476.2 L286.1,1477.0 L288.4,1477.7 L290.7,1478.5 L293.0,1479.4 L295.3,1480.2 L297.6,1481.0 L299.9,1481.9 L302.2,1482.8 L304.5,1483.7 L306.8,1484.6 L309.0,1485.6 L311.3,1486.5 L313.6,1487.5 L315.9,1488.5 L318.2,1489.6 L320.5,1490.6 L322.8,1491.7 L325.1,1492.8 L327.4,1493.9 L329.7,1495.0 L332.0,1496.2 L334.3,1497.3 L336.6,1498.5 L338.9,1499.8 L341.2,1501.0"/>
<path d="M91.0,1460.5 L93.3,1460.4 L95.6,1460.4 L97.8,1460.3 L100.1,1460.2 L102.4,1460.1 L104.7,1460.1 L107.0,1460.0 L109.2,1460.0 L111.5,1459.9 L113.8,1459.9 L116.1,1459.8 L118.4,1459.8 L120.6,1459.7 L122.9,1459.7 L125.2,1459.7 L127.5,1459.7 L129.8,1459.6 L132.0,1459.6 L134.3,1459.6 L136.6,1459.6 L138.9,1459.6 L141.1,1459.7 L143.4,1459.7 L145.7,1459.7 L148.0,1459.8 L150.3,1459.8 L152.5,1459.9 L154.8,1460.0 L157.1,1460.1 L159.4,1460.2 L161.7,1460.3 L163.9,1460.5 M200.4,1465.2 L202.7,1465.7 L205.0,1466.1 L207.3,1466.5 L209.5,1467.0 L211.8,1467.5 L214.1,1467.9 L216.4,1468.4 L218.6,1468.8 L220.9,1469.3 L223.2,1469.8 L225.5,1470.3 L227.8,1470.7 L230.0,1471.2 L232.3,1471.7 L234.6,1472.1 L236.9,1472.6 L239.2,1473.1 L241.4,1473.5 L243.7,1474.0 L246.0,1474.5 L248.3,1474.9 L250.6,1475.4 L252.8,1475.9 L255.1,1476.3 L257.4,1476.8 L259.7,1477.3 L262.0,1477.7 L264.2,1478.2 L266.5,1478.7 L268.8,1479.2 L271.1,1479.6 L273.4,1480.1 L275.6,1480.6 L277.9,1481.1 L280.2,1481.7 L282.5,1482.2 L284.8,1482.7 L287.0,1483.3 L289.3,1483.9 L291.6,1484.5 L293.9,1485.2 L296.1,1485.9 L298.4,1486.6 L300.7,1487.3 L303.0,1488.0 L305.3,1488.7 L307.5,1489.5 L309.8,1490.3 L312.1,1491.1 L314.4,1491.9 L316.7,1492.7 L318.9,1493.5 L321.2,1494.3 L323.5,1495.1 L325.8,1496.0 L328.1,1496.8 L330.3,1497.6 L332.6,1498.5 L334.9,1499.3 L337.2,1500.2 L339.5,1501.0"/>
</g>
<g stroke="#7a7a7a" stroke-width="1.3" fill="none">
<path d="M91.0,1150.6 H479.2 V1501.0 H91.0 Z"/>
</g>
<g stroke="#7a7a7a" stroke-width="1.1" fill="none">
<path d="M91.0,1146.5 H479.2 M91.00,1142.8 V1146.5 M142.76,1142.8 V1146.5 M194.52,1142.8 V1146.5 M246.28,1142.8 V1146.5 M298.04,1142.8 V1146.5 M349.80,1142.8 V1146.5 M401.56,1142.8 V1146.5 M453.32,1142.8 V1146.5"/>
<path d="M479.2,1501.00 h3.4 M479.2,1467.64 h3.4 M479.2,1434.28 h3.4 M479.2,1400.92 h3.4 M479.2,1367.56 h3.4 M479.2,1334.20 h3.4 M479.2,1300.84 h3.4 M479.2,1267.48 h3.4 M479.2,1234.12 h3.4 M479.2,1200.76 h3.4 M479.2,1167.40 h3.4"/>
</g>
<text x="91.80" y="1139.40" font-size="10.4" fill="#6a6a6a" text-anchor="middle">0</text>
<text x="143.56" y="1139.40" font-size="10.4" fill="#6a6a6a" text-anchor="middle">10</text>
<text x="195.32" y="1139.40" font-size="10.4" fill="#6a6a6a" text-anchor="middle">20</text>
<text x="247.08" y="1139.40" font-size="10.4" fill="#6a6a6a" text-anchor="middle">30</text>
<text x="298.84" y="1139.40" font-size="10.4" fill="#6a6a6a" text-anchor="middle">40</text>
<text x="350.60" y="1139.40" font-size="10.4" fill="#6a6a6a" text-anchor="middle">50</text>
<text x="402.36" y="1139.40" font-size="10.4" fill="#6a6a6a" text-anchor="middle">60</text>
<text x="454.12" y="1139.40" font-size="10.4" fill="#6a6a6a" text-anchor="middle">70</text>
<text x="84.42" y="1461.62" font-size="10.4" fill="#6a6a6a" text-anchor="end">40</text>
<text x="84.42" y="1417.84" font-size="10.4" fill="#6a6a6a" text-anchor="end">80</text>
<text x="84.38" y="1374.06" font-size="10.4" fill="#6a6a6a" text-anchor="end">120</text>
<text x="84.38" y="1330.28" font-size="10.4" fill="#6a6a6a" text-anchor="end">160</text>
<text x="84.38" y="1286.50" font-size="10.4" fill="#6a6a6a" text-anchor="end">200</text>
<text x="84.38" y="1242.72" font-size="10.4" fill="#6a6a6a" text-anchor="end">240</text>
<text x="84.38" y="1198.94" font-size="10.4" fill="#6a6a6a" text-anchor="end">280</text>
<text x="84.38" y="1155.16" font-size="10.4" fill="#6a6a6a" text-anchor="end">320</text>
<text x="80.60" y="1514.30" font-size="10.4" fill="#6a6a6a" text-anchor="middle">0</text>
<text x="134.13" y="1514.00" font-size="10.4" fill="#6a6a6a" text-anchor="middle">0.5</text>
<text x="177.27" y="1514.00" font-size="10.4" fill="#6a6a6a" text-anchor="middle">1</text>
<text x="220.40" y="1514.00" font-size="10.4" fill="#6a6a6a" text-anchor="middle">1.5</text>
<text x="263.53" y="1514.00" font-size="10.4" fill="#6a6a6a" text-anchor="middle">2</text>
<text x="306.67" y="1514.00" font-size="10.4" fill="#6a6a6a" text-anchor="middle">2.5</text>
<text x="349.80" y="1514.00" font-size="10.4" fill="#6a6a6a" text-anchor="middle">3</text>
<text x="392.93" y="1514.00" font-size="10.4" fill="#6a6a6a" text-anchor="middle">3.5</text>
<text x="436.07" y="1514.00" font-size="10.4" fill="#6a6a6a" text-anchor="middle">4</text>
<text x="480.70" y="1514.00" font-size="10.4" fill="#6a6a6a" text-anchor="middle">4.5</text>
<text x="490.60" y="1504.80" font-size="10.4" fill="#6a6a6a">0</text>
<text x="490.60" y="1471.44" font-size="10.4" fill="#6a6a6a">100</text>
<text x="490.60" y="1438.08" font-size="10.4" fill="#6a6a6a">200</text>
<text x="490.60" y="1404.72" font-size="10.4" fill="#6a6a6a">300</text>
<text x="490.60" y="1371.36" font-size="10.4" fill="#6a6a6a">400</text>
<text x="490.60" y="1338.00" font-size="10.4" fill="#6a6a6a">500</text>
<text x="490.60" y="1304.64" font-size="10.4" fill="#6a6a6a">600</text>
<text x="490.60" y="1271.28" font-size="10.4" fill="#6a6a6a">700</text>
<text x="490.60" y="1237.92" font-size="10.4" fill="#6a6a6a">800</text>
<text x="490.60" y="1204.56" font-size="10.4" fill="#6a6a6a">900</text>
<text x="490.60" y="1171.20" font-size="10.4" fill="#6a6a6a">1000</text>
<text x="493.00" y="1147.60" font-size="9.2" fill="#1f72ad" textLength="7.62" lengthAdjust="spacingAndGlyphs">H</text>
<text x="490.60" y="1156.80" font-size="9.5" fill="#1f72ad" textLength="12.41" lengthAdjust="spacingAndGlyphs">[ft]</text>
<text x="422.60" y="1119.40" font-size="13.6" fill="#1f72ad" textLength="56.79" lengthAdjust="spacingAndGlyphs">Q(L/min)</text>
<text x="401.20" y="1530.50" font-size="11.3" fill="#1f72ad" textLength="85.91" lengthAdjust="spacingAndGlyphs">CAPACITY Q(m</text><text x="487.60" y="1526.00" font-size="5.2" fill="#1f72ad">3</text><text x="492.70" y="1530.50" font-size="11.3" fill="#1f72ad" textLength="14.43" lengthAdjust="spacingAndGlyphs">/h)</text>
<text transform="translate(36.8,1202.7) rotate(-90)" font-size="11.4" fill="#1f72ad" textLength="62.3" lengthAdjust="spacingAndGlyphs">HEAD H(m)</text>
<text transform="translate(132.6,1183.2) rotate(23.5)" x="-0.00" y="0" font-size="11.2" font-style="italic" fill="#1f72ad" stroke="#fff" stroke-width="3.2" stroke-linejoin="round" paint-order="stroke" textLength="60.46" lengthAdjust="spacingAndGlyphs">1.532–3/385</text>
<text transform="translate(130.6,1278.8) rotate(19.0)" x="-0.00" y="0" font-size="11.2" font-style="italic" fill="#1f72ad" stroke="#fff" stroke-width="3.2" stroke-linejoin="round" paint-order="stroke" textLength="70.00" lengthAdjust="spacingAndGlyphs">1.525–2.2/280</text>
<text transform="translate(128.8,1338.3) rotate(9.0)" x="-0.00" y="0" font-size="11.2" font-style="italic" fill="#1f72ad" stroke="#fff" stroke-width="3.2" stroke-linejoin="round" paint-order="stroke" textLength="67.80" lengthAdjust="spacingAndGlyphs">1.519–1.5/192</text>
<text transform="translate(128.4,1393.0) rotate(4.6)" x="-0.00" y="0" font-size="11.2" font-style="italic" fill="#1f72ad" stroke="#fff" stroke-width="3.2" stroke-linejoin="round" paint-order="stroke" textLength="68.50" lengthAdjust="spacingAndGlyphs">1.515–1.1/144</text>
<text transform="translate(128.4,1441.7) rotate(7.8)" x="-0.00" y="0" font-size="11.2" font-style="italic" fill="#1f72ad" stroke="#fff" stroke-width="3.2" stroke-linejoin="round" paint-order="stroke" textLength="68.85" lengthAdjust="spacingAndGlyphs">1.512–0.75/96</text>
<text transform="translate(128.4,1457.6) rotate(5.4)" x="-0.00" y="0" font-size="11.2" font-style="italic" fill="#1f72ad" stroke="#fff" stroke-width="3.2" stroke-linejoin="round" paint-order="stroke" textLength="63.09" lengthAdjust="spacingAndGlyphs">1.510–0.6/72</text>
<!-- chart 2 : 4SLR2 -->
<g stroke="#bdbdbd" stroke-width="0.9" fill="none">
<path d="M647.32,1152.5 V1506.0"/>
<path d="M663.64,1152.5 V1506.0"/>
<path d="M679.96,1152.5 V1506.0"/>
<path d="M696.28,1152.5 V1506.0"/>
<path d="M712.60,1152.5 V1506.0"/>
<path d="M728.92,1152.5 V1506.0"/>
<path d="M745.25,1152.5 V1506.0"/>
<path d="M761.57,1152.5 V1506.0"/>
<path d="M777.89,1152.5 V1506.0"/>
<path d="M794.21,1152.5 V1506.0"/>
<path d="M810.53,1152.5 V1506.0"/>
<path d="M826.85,1152.5 V1506.0"/>
<path d="M843.17,1152.5 V1506.0"/>
<path d="M859.49,1152.5 V1506.0"/>
<path d="M875.81,1152.5 V1506.0"/>
<path d="M892.13,1152.5 V1506.0"/>
<path d="M908.45,1152.5 V1506.0"/>
<path d="M924.78,1152.5 V1506.0"/>
<path d="M941.10,1152.5 V1506.0"/>
<path d="M957.42,1152.5 V1506.0"/>
<path d="M973.74,1152.5 V1506.0"/>
<path d="M990.06,1152.5 V1506.0"/>
<path d="M1006.38,1152.5 V1506.0"/>
<path d="M631.0,1491.90 H1022.7"/>
<path d="M631.0,1477.80 H1022.7"/>
<path d="M631.0,1463.70 H1022.7"/>
<path d="M631.0,1449.60 H1022.7"/>
<path d="M631.0,1435.50 H1022.7"/>
<path d="M631.0,1421.40 H1022.7"/>
<path d="M631.0,1407.30 H1022.7"/>
<path d="M631.0,1393.20 H1022.7"/>
<path d="M631.0,1379.10 H1022.7"/>
<path d="M631.0,1365.00 H1022.7"/>
<path d="M631.0,1350.90 H1022.7"/>
<path d="M631.0,1336.80 H1022.7"/>
<path d="M631.0,1322.70 H1022.7"/>
<path d="M631.0,1308.60 H1022.7"/>
<path d="M631.0,1294.50 H1022.7"/>
<path d="M631.0,1280.40 H1022.7"/>
<path d="M631.0,1266.30 H1022.7"/>
<path d="M631.0,1252.20 H1022.7"/>
<path d="M631.0,1238.10 H1022.7"/>
<path d="M631.0,1224.00 H1022.7"/>
<path d="M631.0,1209.90 H1022.7"/>
<path d="M631.0,1195.80 H1022.7"/>
<path d="M631.0,1181.70 H1022.7"/>
<path d="M631.0,1167.60 H1022.7"/>
</g>
<rect x="975.0" y="1152.5" width="47.7" height="28.4" fill="#21509b"/>
<text x="982.50" y="1170.90" font-size="10.3" fill="#fff" textLength="32.18" lengthAdjust="spacingAndGlyphs">4SLR2</text>
<g stroke="#1f6fa6" stroke-width="1.35" fill="none" stroke-linecap="round">
<path d="M631.1,1163.5 L634.6,1164.0 L638.1,1164.5 L641.6,1165.2 L645.1,1165.9 L648.6,1166.7 L652.1,1167.5 L655.6,1168.5 L659.1,1169.5 L662.6,1170.6 L666.1,1171.7 L669.6,1172.9 L673.1,1174.2 L676.6,1175.5 L680.1,1176.8 L683.6,1178.2 L687.1,1179.6 L690.6,1181.1 L694.1,1182.6 L697.6,1184.1 L701.1,1185.7 L704.6,1187.3 L708.1,1188.9 L711.6,1190.6 L715.1,1192.3 L718.6,1194.0 L722.1,1195.7 L725.6,1197.4 L729.2,1199.1 L732.7,1200.9 L736.2,1202.6 L739.7,1204.4 L743.2,1206.2 L746.7,1208.0 L750.2,1209.8 L753.7,1211.6 L757.2,1213.4 L760.7,1215.4 L764.2,1217.3 L767.7,1219.3 L771.2,1221.4 L774.7,1223.6 L778.2,1225.9 L781.7,1228.2 L785.2,1230.6 L788.7,1233.1 L792.2,1235.6 L795.7,1238.2 L799.2,1240.8 L802.7,1243.4 L806.2,1246.1 L809.7,1248.8 L813.2,1251.5 L816.7,1254.3 L820.2,1257.0 L823.7,1259.8 L827.2,1262.7 L830.7,1265.5 L834.2,1268.5 L837.7,1271.5 L841.2,1274.5 L844.7,1277.7 L848.2,1280.9 L851.7,1284.2 L855.2,1287.6 L858.7,1291.0 L862.2,1294.6 L865.7,1298.1 L869.2,1301.8 L872.7,1305.5 L876.2,1309.2 L879.7,1312.9 L883.2,1316.7 L886.7,1320.5 L890.2,1324.3 L893.7,1328.1 L897.2,1331.9 L900.7,1335.8 L904.2,1339.7 L907.7,1343.6 L911.2,1347.6 L914.7,1351.7 L918.3,1355.8 L921.8,1360.0 L925.3,1364.3 L928.8,1368.7 L932.3,1373.2 L935.8,1377.8 L939.3,1382.5 L942.8,1387.3 L946.3,1392.3 L949.8,1397.4 L953.3,1402.6 L956.8,1408.0 L960.3,1413.5 L963.8,1419.1 L967.3,1424.8 L970.8,1430.7 L974.3,1436.6 L977.8,1442.7 L981.3,1448.8 L984.8,1455.0 L988.3,1461.3 L991.8,1467.6 L995.3,1473.9 L998.8,1480.3 L1002.3,1486.7 L1005.8,1493.1 L1009.3,1499.6 L1012.8,1506.0"/>
<path d="M631.1,1253.6 L634.5,1254.0 L637.9,1254.5 L641.3,1255.0 L644.7,1255.5 L648.2,1256.1 L651.6,1256.7 L655.0,1257.3 L658.4,1258.0 L661.8,1258.7 L665.2,1259.5 L668.6,1260.3 L672.0,1261.2 L675.4,1262.1 L678.8,1263.0 L682.3,1264.0 L685.7,1265.1 L689.1,1266.1 L692.5,1267.2 L695.9,1268.3 L699.3,1269.5 L702.7,1270.7 L706.1,1271.9 L709.5,1273.1 L712.9,1274.4 L716.4,1275.6 L719.8,1276.9 L723.2,1278.2 L726.6,1279.4 L730.0,1280.7 L733.4,1282.0 L736.8,1283.3 L740.2,1284.6 L743.6,1285.9 L747.0,1287.2 L750.5,1288.5 L753.9,1289.9 L757.3,1291.2 L760.7,1292.6 L764.1,1294.1 L767.5,1295.6 L770.9,1297.1 L774.3,1298.7 L777.7,1300.3 L781.1,1302.0 L784.6,1303.7 L788.0,1305.5 L791.4,1307.3 L794.8,1309.2 L798.2,1311.1 L801.6,1313.0 L805.0,1314.9 L808.4,1316.9 L811.8,1318.8 L815.2,1320.8 L818.7,1322.8 L822.1,1324.8 L825.5,1326.8 L828.9,1328.9 L832.3,1331.0 L835.7,1333.1 L839.1,1335.3 L842.5,1337.6 L845.9,1340.0 L849.3,1342.4 L852.8,1344.9 L856.2,1347.5 L859.6,1350.1 L863.0,1352.8 L866.4,1355.6 L869.8,1358.5 L873.2,1361.4 L876.6,1364.4 L880.0,1367.5 L883.4,1370.6 L886.9,1373.8 L890.3,1377.0 L893.7,1380.3 L897.1,1383.7 L900.5,1387.0 L903.9,1390.5 L907.3,1394.0 L910.7,1397.5 L914.1,1401.0 L917.5,1404.6 L921.0,1408.2 L924.4,1411.9 L927.8,1415.6 L931.2,1419.3 L934.6,1423.0 L938.0,1426.8 L941.4,1430.5 L944.8,1434.3 L948.2,1438.1 L951.6,1441.9 L955.1,1445.8 L958.5,1449.6 L961.9,1453.6 L965.3,1457.5 L968.7,1461.5 L972.1,1465.6 L975.5,1469.8 L978.9,1474.0 L982.3,1478.4 L985.7,1482.8 L989.2,1487.3 L992.6,1491.9 L996.0,1496.6 L999.4,1501.3 L1002.8,1506.0"/>
<path d="M631.1,1309.0 L634.3,1309.7 L637.5,1310.4 L640.7,1311.2 L643.8,1311.9 L647.0,1312.6 L650.2,1313.3 L653.4,1314.1 L656.6,1314.8 L659.8,1315.5 L663.0,1316.3 L666.1,1317.1 L669.3,1317.9 L672.5,1318.7 L675.7,1319.5 L678.9,1320.4 L682.1,1321.4 L685.3,1322.3 L688.4,1323.4 L691.6,1324.5 L694.8,1325.6 L698.0,1326.8 L701.2,1328.1 L704.4,1329.4 L707.5,1330.7 L710.7,1332.1 L713.9,1333.5 L717.1,1335.0 L720.3,1336.4 L723.5,1337.8 L726.7,1339.3 L729.8,1340.8 L733.0,1342.2 L736.2,1343.7 L739.4,1345.1 L742.6,1346.6 L745.8,1348.1 L749.0,1349.5 L752.1,1351.0 L755.3,1352.5 L758.5,1354.0 L761.7,1355.6 L764.9,1357.2 L768.1,1358.8 L771.3,1360.4 L774.4,1362.1 L777.6,1363.8 L780.8,1365.5 L784.0,1367.2 L787.2,1369.0 L790.4,1370.7 L793.6,1372.5 L796.7,1374.2 L799.9,1376.0 L803.1,1377.7 L806.3,1379.5 L809.5,1381.2 L812.7,1383.0 L815.8,1384.8 L819.0,1386.6 L822.2,1388.4 L825.4,1390.2 L828.6,1392.1 L831.8,1394.0 L835.0,1395.9 L838.1,1397.8 L841.3,1399.8 L844.5,1401.8 L847.7,1403.8 L850.9,1405.8 L854.1,1407.9 L857.3,1410.1 L860.4,1412.2 L863.6,1414.4 L866.8,1416.6 L870.0,1418.9 L873.2,1421.1 L876.4,1423.4 L879.6,1425.7 L882.7,1428.0 L885.9,1430.3 L889.1,1432.6 L892.3,1434.9 L895.5,1437.3 L898.7,1439.6 L901.9,1442.0 L905.0,1444.4 L908.2,1446.8 L911.4,1449.3 L914.6,1451.8 L917.8,1454.3 L921.0,1456.8 L924.1,1459.3 L927.3,1461.9 L930.5,1464.4 L933.7,1467.0 L936.9,1469.6 L940.1,1472.2 L943.3,1474.8 L946.4,1477.4 L949.6,1480.1 L952.8,1482.8 L956.0,1485.5 L959.2,1488.3 L962.4,1491.1 L965.6,1493.9 L968.7,1496.9 L971.9,1499.9 L975.1,1502.9 L978.3,1506.0"/>
<path d="M631.1,1359.2 L634.1,1359.6 L637.1,1360.0 L640.1,1360.5 L643.1,1361.0 L646.1,1361.5 L649.1,1362.1 L652.1,1362.7 L655.1,1363.4 L658.1,1364.0 L661.1,1364.7 L664.1,1365.4 L667.1,1366.1 L670.1,1366.9 L673.1,1367.6 L676.1,1368.3 L679.1,1369.1 L682.1,1369.8 L685.1,1370.6 L688.1,1371.3 L691.1,1372.1 L694.1,1372.8 L697.1,1373.6 L700.1,1374.4 L703.1,1375.2 L706.1,1376.0 L709.1,1376.8 L712.1,1377.6 L715.1,1378.5 L718.1,1379.4 L721.1,1380.3 L724.1,1381.3 L727.1,1382.2 L730.1,1383.2 L733.1,1384.3 L736.1,1385.3 L739.1,1386.4 L742.1,1387.5 L745.1,1388.6 L748.1,1389.7 L751.1,1390.9 L754.1,1392.0 L757.1,1393.2 L760.1,1394.4 L763.1,1395.6 L766.1,1396.9 L769.1,1398.1 L772.1,1399.4 L775.1,1400.6 L778.1,1401.9 L781.1,1403.2 L784.1,1404.6 L787.1,1405.9 L790.1,1407.3 L793.1,1408.6 L796.0,1410.0 L799.0,1411.5 L802.0,1412.9 L805.0,1414.4 L808.0,1415.9 L811.0,1417.3 L814.0,1418.9 L817.0,1420.4 L820.0,1421.9 L823.0,1423.4 L826.0,1425.0 L829.0,1426.5 L832.0,1428.1 L835.0,1429.6 L838.0,1431.2 L841.0,1432.7 L844.0,1434.3 L847.0,1435.9 L850.0,1437.5 L853.0,1439.1 L856.0,1440.7 L859.0,1442.4 L862.0,1444.0 L865.0,1445.7 L868.0,1447.4 L871.0,1449.1 L874.0,1450.8 L877.0,1452.6 L880.0,1454.3 L883.0,1456.1 L886.0,1457.8 L889.0,1459.6 L892.0,1461.4 L895.0,1463.2 L898.0,1465.1 L901.0,1466.9 L904.0,1468.8 L907.0,1470.6 L910.0,1472.5 L913.0,1474.4 L916.0,1476.4 L919.0,1478.3 L922.0,1480.3 L925.0,1482.2 L928.0,1484.2 L931.0,1486.2 L934.0,1488.2 L937.0,1490.3 L940.0,1492.4 L943.0,1494.5 L946.0,1496.7 L949.0,1498.9 L952.0,1501.2 L955.0,1503.6 L958.0,1506.0"/>
<path d="M631.1,1411.8 L633.9,1412.2 L636.7,1412.6 L639.6,1413.0 L642.4,1413.4 L645.2,1413.9 L648.0,1414.3 L650.9,1414.7 L653.7,1415.1 L656.5,1415.6 L659.3,1416.0 L662.2,1416.4 L665.0,1416.9 L667.8,1417.3 L670.6,1417.8 L673.5,1418.2 L676.3,1418.7 L679.1,1419.1 L681.9,1419.6 L684.8,1420.0 L687.6,1420.5 L690.4,1421.0 L693.2,1421.4 L696.0,1421.9 L698.9,1422.4 L701.7,1422.8 L704.5,1423.3 L707.3,1423.8 L710.2,1424.3 L713.0,1424.8 L715.8,1425.3 L718.6,1425.8 L721.5,1426.2 L724.3,1426.7 L727.1,1427.2 L729.9,1427.7 L732.8,1428.2 L735.6,1428.7 L738.4,1429.2 L741.2,1429.8 L744.1,1430.3 L746.9,1430.8 L749.7,1431.4 L752.5,1431.9 L755.3,1432.5 L758.2,1433.1 L761.0,1433.7 L763.8,1434.3 L766.6,1434.9 L769.5,1435.6 L772.3,1436.3 L775.1,1437.0 L777.9,1437.8 L780.8,1438.6 L783.6,1439.4 L786.4,1440.3 L789.2,1441.1 L792.1,1442.1 L794.9,1443.0 L797.7,1443.9 L800.5,1444.9 L803.4,1445.9 L806.2,1446.9 L809.0,1447.9 L811.8,1448.9 L814.7,1450.0 L817.5,1451.0 L820.3,1452.1 L823.1,1453.2 L825.9,1454.2 L828.8,1455.3 L831.6,1456.4 L834.4,1457.5 L837.2,1458.6 L840.1,1459.7 L842.9,1460.8 L845.7,1462.0 L848.5,1463.1 L851.4,1464.3 L854.2,1465.5 L857.0,1466.7 L859.8,1467.9 L862.7,1469.1 L865.5,1470.4 L868.3,1471.6 L871.1,1472.9 L874.0,1474.2 L876.8,1475.5 L879.6,1476.8 L882.4,1478.1 L885.2,1479.4 L888.1,1480.7 L890.9,1482.1 L893.7,1483.5 L896.5,1484.8 L899.4,1486.2 L902.2,1487.6 L905.0,1489.0 L907.8,1490.4 L910.7,1491.8 L913.5,1493.2 L916.3,1494.7 L919.1,1496.1 L922.0,1497.5 L924.8,1498.9 L927.6,1500.3 L930.4,1501.8 L933.3,1503.2 L936.1,1504.6 L938.9,1506.0"/>
<path d="M631.1,1431.7 L633.9,1431.9 L636.6,1432.2 L639.4,1432.4 L642.2,1432.7 L644.9,1433.0 L647.7,1433.2 L650.5,1433.5 L653.2,1433.8 L656.0,1434.1 L658.8,1434.4 L661.5,1434.6 L664.3,1434.9 L667.1,1435.2 L669.8,1435.6 L672.6,1435.9 L675.4,1436.2 L678.1,1436.5 L680.9,1436.8 L683.7,1437.2 L686.4,1437.5 L689.2,1437.9 L692.0,1438.2 L694.7,1438.6 L697.5,1438.9 L700.3,1439.3 L703.0,1439.7 L705.8,1440.1 L708.6,1440.4 L711.3,1440.8 L714.1,1441.2 L716.9,1441.6 L719.6,1442.0 L722.4,1442.4 L725.2,1442.8 L727.9,1443.2 L730.7,1443.6 L733.5,1444.1 L736.2,1444.5 L739.0,1444.9 L741.8,1445.4 L744.5,1445.8 L747.3,1446.3 L750.1,1446.7 L752.8,1447.2 L755.6,1447.7 L758.4,1448.2 L761.1,1448.8 L763.9,1449.3 L766.7,1449.9 L769.4,1450.5 L772.2,1451.2 L775.0,1451.8 L777.7,1452.5 L780.5,1453.2 L783.3,1453.9 L786.1,1454.7 L788.8,1455.4 L791.6,1456.2 L794.4,1456.9 L797.1,1457.7 L799.9,1458.5 L802.7,1459.2 L805.4,1460.0 L808.2,1460.8 L811.0,1461.6 L813.7,1462.4 L816.5,1463.2 L819.3,1464.0 L822.0,1464.8 L824.8,1465.6 L827.6,1466.5 L830.3,1467.4 L833.1,1468.3 L835.9,1469.3 L838.6,1470.2 L841.4,1471.2 L844.2,1472.2 L846.9,1473.3 L849.7,1474.3 L852.5,1475.3 L855.2,1476.4 L858.0,1477.4 L860.8,1478.5 L863.5,1479.6 L866.3,1480.6 L869.1,1481.7 L871.8,1482.7 L874.6,1483.8 L877.4,1484.9 L880.1,1485.9 L882.9,1487.0 L885.7,1488.0 L888.4,1489.1 L891.2,1490.1 L894.0,1491.2 L896.7,1492.3 L899.5,1493.3 L902.3,1494.4 L905.0,1495.4 L907.8,1496.5 L910.6,1497.6 L913.3,1498.6 L916.1,1499.7 L918.9,1500.7 L921.6,1501.8 L924.4,1502.9 L927.2,1503.9 L929.9,1505.0 L932.7,1506.0"/>
</g>
<g stroke="#7a7a7a" stroke-width="1.3" fill="none">
<path d="M631.0,1152.5 H1022.7 V1506.0 H631.0 Z"/>
</g>
<g stroke="#7a7a7a" stroke-width="1.1" fill="none">
<path d="M631.0,1147.7 H1022.7 M631.00,1144.0 V1147.7 M670.17,1144.0 V1147.7 M709.34,1144.0 V1147.7 M748.51,1144.0 V1147.7 M787.68,1144.0 V1147.7 M826.85,1144.0 V1147.7 M866.02,1144.0 V1147.7 M905.19,1144.0 V1147.7 M944.36,1144.0 V1147.7 M983.53,1144.0 V1147.7 M1022.70,1144.0 V1147.7"/>
<path d="M1022.7,1506.00 h3.2 M1022.7,1463.60 h3.2 M1022.7,1421.20 h3.2 M1022.7,1378.80 h3.2 M1022.7,1336.40 h3.2 M1022.7,1294.00 h3.2 M1022.7,1251.60 h3.2 M1022.7,1209.20 h3.2"/>
</g>
<text x="631.60" y="1140.00" font-size="10.4" fill="#6a6a6a" text-anchor="middle">0</text>
<text x="670.77" y="1140.00" font-size="10.4" fill="#6a6a6a" text-anchor="middle">10</text>
<text x="709.94" y="1140.00" font-size="10.4" fill="#6a6a6a" text-anchor="middle">20</text>
<text x="749.11" y="1140.00" font-size="10.4" fill="#6a6a6a" text-anchor="middle">30</text>
<text x="788.28" y="1140.00" font-size="10.4" fill="#6a6a6a" text-anchor="middle">40</text>
<text x="827.45" y="1140.00" font-size="10.4" fill="#6a6a6a" text-anchor="middle">50</text>
<text x="866.62" y="1140.00" font-size="10.4" fill="#6a6a6a" text-anchor="middle">60</text>
<text x="905.79" y="1140.00" font-size="10.4" fill="#6a6a6a" text-anchor="middle">70</text>
<text x="944.96" y="1140.00" font-size="10.4" fill="#6a6a6a" text-anchor="middle">80</text>
<text x="984.13" y="1140.00" font-size="10.4" fill="#6a6a6a" text-anchor="middle">90</text>
<text x="1023.30" y="1140.00" font-size="10.4" fill="#6a6a6a" text-anchor="middle">100</text>
<text x="623.12" y="1453.80" font-size="10.4" fill="#6a6a6a" text-anchor="end">40</text>
<text x="623.12" y="1397.40" font-size="10.4" fill="#6a6a6a" text-anchor="end">80</text>
<text x="623.08" y="1341.00" font-size="10.4" fill="#6a6a6a" text-anchor="end">120</text>
<text x="623.08" y="1284.60" font-size="10.4" fill="#6a6a6a" text-anchor="end">160</text>
<text x="623.08" y="1228.20" font-size="10.4" fill="#6a6a6a" text-anchor="end">200</text>
<text x="623.08" y="1171.80" font-size="10.4" fill="#6a6a6a" text-anchor="end">240</text>
<text x="621.00" y="1518.70" font-size="10.4" fill="#6a6a6a" text-anchor="middle">0</text>
<text x="696.28" y="1518.40" font-size="9.4" fill="#6a6a6a" letter-spacing="0.3" text-anchor="middle">1.0</text>
<text x="761.56" y="1518.40" font-size="9.4" fill="#6a6a6a" letter-spacing="0.3" text-anchor="middle">2.0</text>
<text x="826.84" y="1518.40" font-size="9.4" fill="#6a6a6a" letter-spacing="0.3" text-anchor="middle">3.0</text>
<text x="892.12" y="1518.40" font-size="9.4" fill="#6a6a6a" letter-spacing="0.3" text-anchor="middle">4.0</text>
<text x="957.40" y="1518.60" font-size="10.2" fill="#6a6a6a" text-anchor="middle">5</text>
<text x="1022.68" y="1518.60" font-size="10.2" fill="#6a6a6a" text-anchor="middle">6</text>
<text x="1033.80" y="1509.70" font-size="10.2" fill="#6a6a6a">0</text>
<text x="1034.30" y="1467.30" font-size="10.2" fill="#6a6a6a">100</text>
<text x="1034.30" y="1424.90" font-size="10.2" fill="#6a6a6a">200</text>
<text x="1034.30" y="1382.50" font-size="10.2" fill="#6a6a6a">300</text>
<text x="1034.30" y="1340.10" font-size="10.2" fill="#6a6a6a">400</text>
<text x="1034.30" y="1297.70" font-size="10.2" fill="#6a6a6a">500</text>
<text x="1034.30" y="1255.30" font-size="10.2" fill="#6a6a6a">600</text>
<text x="1034.30" y="1212.90" font-size="10.2" fill="#6a6a6a">700</text>
<text x="1038.00" y="1154.60" font-size="9.0" fill="#1f72ad" textLength="6.82" lengthAdjust="spacingAndGlyphs">H</text>
<text x="1034.60" y="1163.40" font-size="9.5" fill="#1f72ad" textLength="12.81" lengthAdjust="spacingAndGlyphs">[ft]</text>
<text x="965.70" y="1120.30" font-size="14.0" fill="#1f72ad" textLength="57.69" lengthAdjust="spacingAndGlyphs">Q(L/min)</text>
<text x="944.30" y="1535.90" font-size="11.3" fill="#1f72ad" textLength="87.21" lengthAdjust="spacingAndGlyphs">CAPACITY Q(m</text><text x="1032.90" y="1531.30" font-size="5.2" fill="#1f72ad">3</text><text x="1037.50" y="1535.90" font-size="11.3" fill="#1f72ad" textLength="14.02" lengthAdjust="spacingAndGlyphs">/h)</text>
<text transform="translate(597.4,1204.2) rotate(-90)" font-size="11.5" fill="#1f72ad" textLength="63.1" lengthAdjust="spacingAndGlyphs">HEAD H(m)</text>
<text transform="translate(671.2,1191.2) rotate(18.0)" x="0.11" y="0" font-size="11.2" font-style="italic" fill="#1f72ad" stroke="#fff" stroke-width="3.2" stroke-linejoin="round" paint-order="stroke" textLength="50.32" lengthAdjust="spacingAndGlyphs">225-3/385</text>
<text transform="translate(670.6,1275.2) rotate(18.0)" x="0.11" y="0" font-size="11.2" font-style="italic" fill="#1f72ad" stroke="#fff" stroke-width="3.2" stroke-linejoin="round" paint-order="stroke" textLength="59.67" lengthAdjust="spacingAndGlyphs">219-2.2/280</text>
<text transform="translate(670.2,1331.5) rotate(17.8)" x="0.11" y="0" font-size="11.2" font-style="italic" fill="#1f72ad" stroke="#fff" stroke-width="3.2" stroke-linejoin="round" paint-order="stroke" textLength="60.07" lengthAdjust="spacingAndGlyphs">213-1.5/192</text>
<text transform="translate(670.2,1380.4) rotate(14.0)" x="0.11" y="0" font-size="11.2" font-style="italic" fill="#1f72ad" stroke="#fff" stroke-width="3.2" stroke-linejoin="round" paint-order="stroke" textLength="58.97" lengthAdjust="spacingAndGlyphs">211-1.1/144</text>
<text transform="translate(670.2,1426.6) rotate(9.7)" x="0.11" y="0" font-size="11.2" font-style="italic" fill="#1f72ad" stroke="#fff" stroke-width="3.2" stroke-linejoin="round" paint-order="stroke" textLength="59.87" lengthAdjust="spacingAndGlyphs">208-0.75/96</text>
<text transform="translate(670.2,1447.3) rotate(6.5)" x="0.11" y="0" font-size="11.2" font-style="italic" fill="#1f72ad" stroke="#fff" stroke-width="3.2" stroke-linejoin="round" paint-order="stroke" textLength="52.91" lengthAdjust="spacingAndGlyphs">207-0.6/72</text>
</svg>
</body>
</html>
